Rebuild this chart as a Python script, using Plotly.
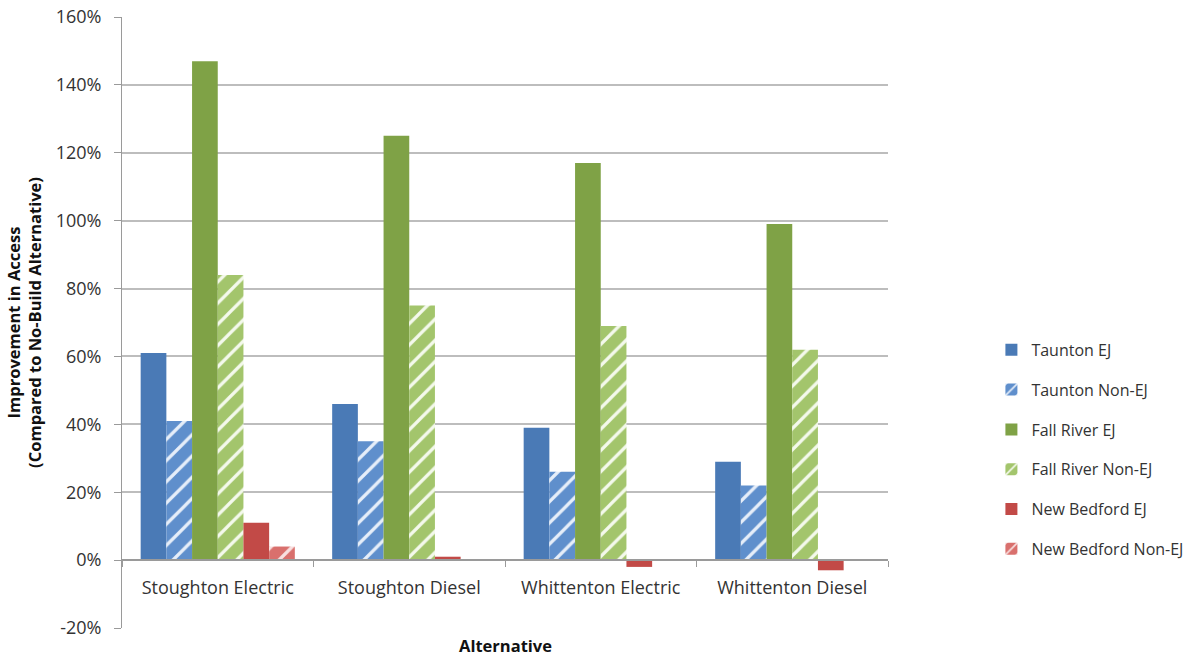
import plotly.graph_objects as go

# Alternatives (categories) and series values in percent
alternatives = ["Stoughton Electric", "Stoughton Diesel", "Whittenton Electric", "Whittenton Diesel"]
taunton_ej = [61, 46, 39, 29]
taunton_non_ej = [41, 35, 26, 22]
fall_river_ej = [147, 125, 117, 99]
fall_river_non_ej = [84, 75, 69, 62]
new_bedford_ej = [11, 1, -2, -3]
new_bedford_non_ej = [4, 0, 0, 0]

y_ticks = list(range(-20, 161, 20))
y_tick_labels = [f"{v}%" for v in y_ticks]

FONT = "Open Sans"

series = [
    ("Taunton EJ", taunton_ej, "#4a7ab6", None),
    ("Taunton Non-EJ", taunton_non_ej, "#5f8fcc", "#e6eef9"),
    ("Fall River EJ", fall_river_ej, "#7fa246", None),
    ("Fall River Non-EJ", fall_river_non_ej, "#a3c56c", "#f4f9ec"),
    ("New Bedford EJ", new_bedford_ej, "#c24a47", None),
    ("New Bedford Non-EJ", new_bedford_non_ej, "#d9706d", "#f8e0e0"),
]

fig = go.Figure()
for i, (name, vals, color, stripe) in enumerate(series):
    marker = dict(color=color, line=dict(width=0))
    if stripe:
        marker["pattern"] = dict(shape="/", fgcolor=stripe, bgcolor=color,
                                 size=15, solidity=0.22, fillmode="replace")
    fig.add_trace(go.Bar(name=name, x=alternatives, y=vals, marker=marker,
                         legendgroup=f"g{i}"))

fig.update_layout(
    width=1194, height=656,
    margin=dict(l=122, r=306, t=17, b=28, autoexpand=False),
    paper_bgcolor="white", plot_bgcolor="white",
    barmode="group", bargap=0.195, bargroupgap=0,
    font=dict(family=FONT, size=16, color="#333333"),
    showlegend=True,
    legend=dict(x=1.135, y=0.483, xanchor="left", yanchor="top",
                font=dict(family=FONT, size=16, color="#333333"),
                tracegroupgap=16, traceorder="grouped", itemwidth=30,
                bgcolor="rgba(0,0,0,0)"),
    xaxis=dict(
        anchor="free", position=20 / 180, automargin=False,
        showline=True, linecolor="#9a9a9a", linewidth=1.5,
        ticks="outside", ticklen=6, tickcolor="#9a9a9a", tickson="boundaries",
        ticklabelstandoff=12,
        showgrid=False, zeroline=False,
        tickfont=dict(family=FONT, size=18, color="#333333"),
    ),
    yaxis=dict(
        range=[-20, 160], tickvals=y_ticks, ticktext=y_tick_labels, automargin=False,
        showline=True, linecolor="#9a9a9a", linewidth=1,
        ticks="outside", ticklen=7, tickcolor="#9a9a9a", ticklabelstandoff=9,
        showgrid=True, gridcolor="#bdbdbd", gridwidth=1.5, zeroline=False,
        tickfont=dict(family=FONT, size=18, color="#333333"),
        title=dict(text="<b>Improvement in Access<br>(Compared to No-Build Alternative)</b>",
                   font=dict(family=FONT, size=16.5, color="#111111"), standoff=9),
    ),
    annotations=[dict(text="<b>Alternative</b>", x=0.5, y=-0.028, xref="paper", yref="paper",
                      xanchor="center", yanchor="middle", showarrow=False,
                      font=dict(family=FONT, size=16.5, color="#111111"))],
)

fig.write_html("out.html")
